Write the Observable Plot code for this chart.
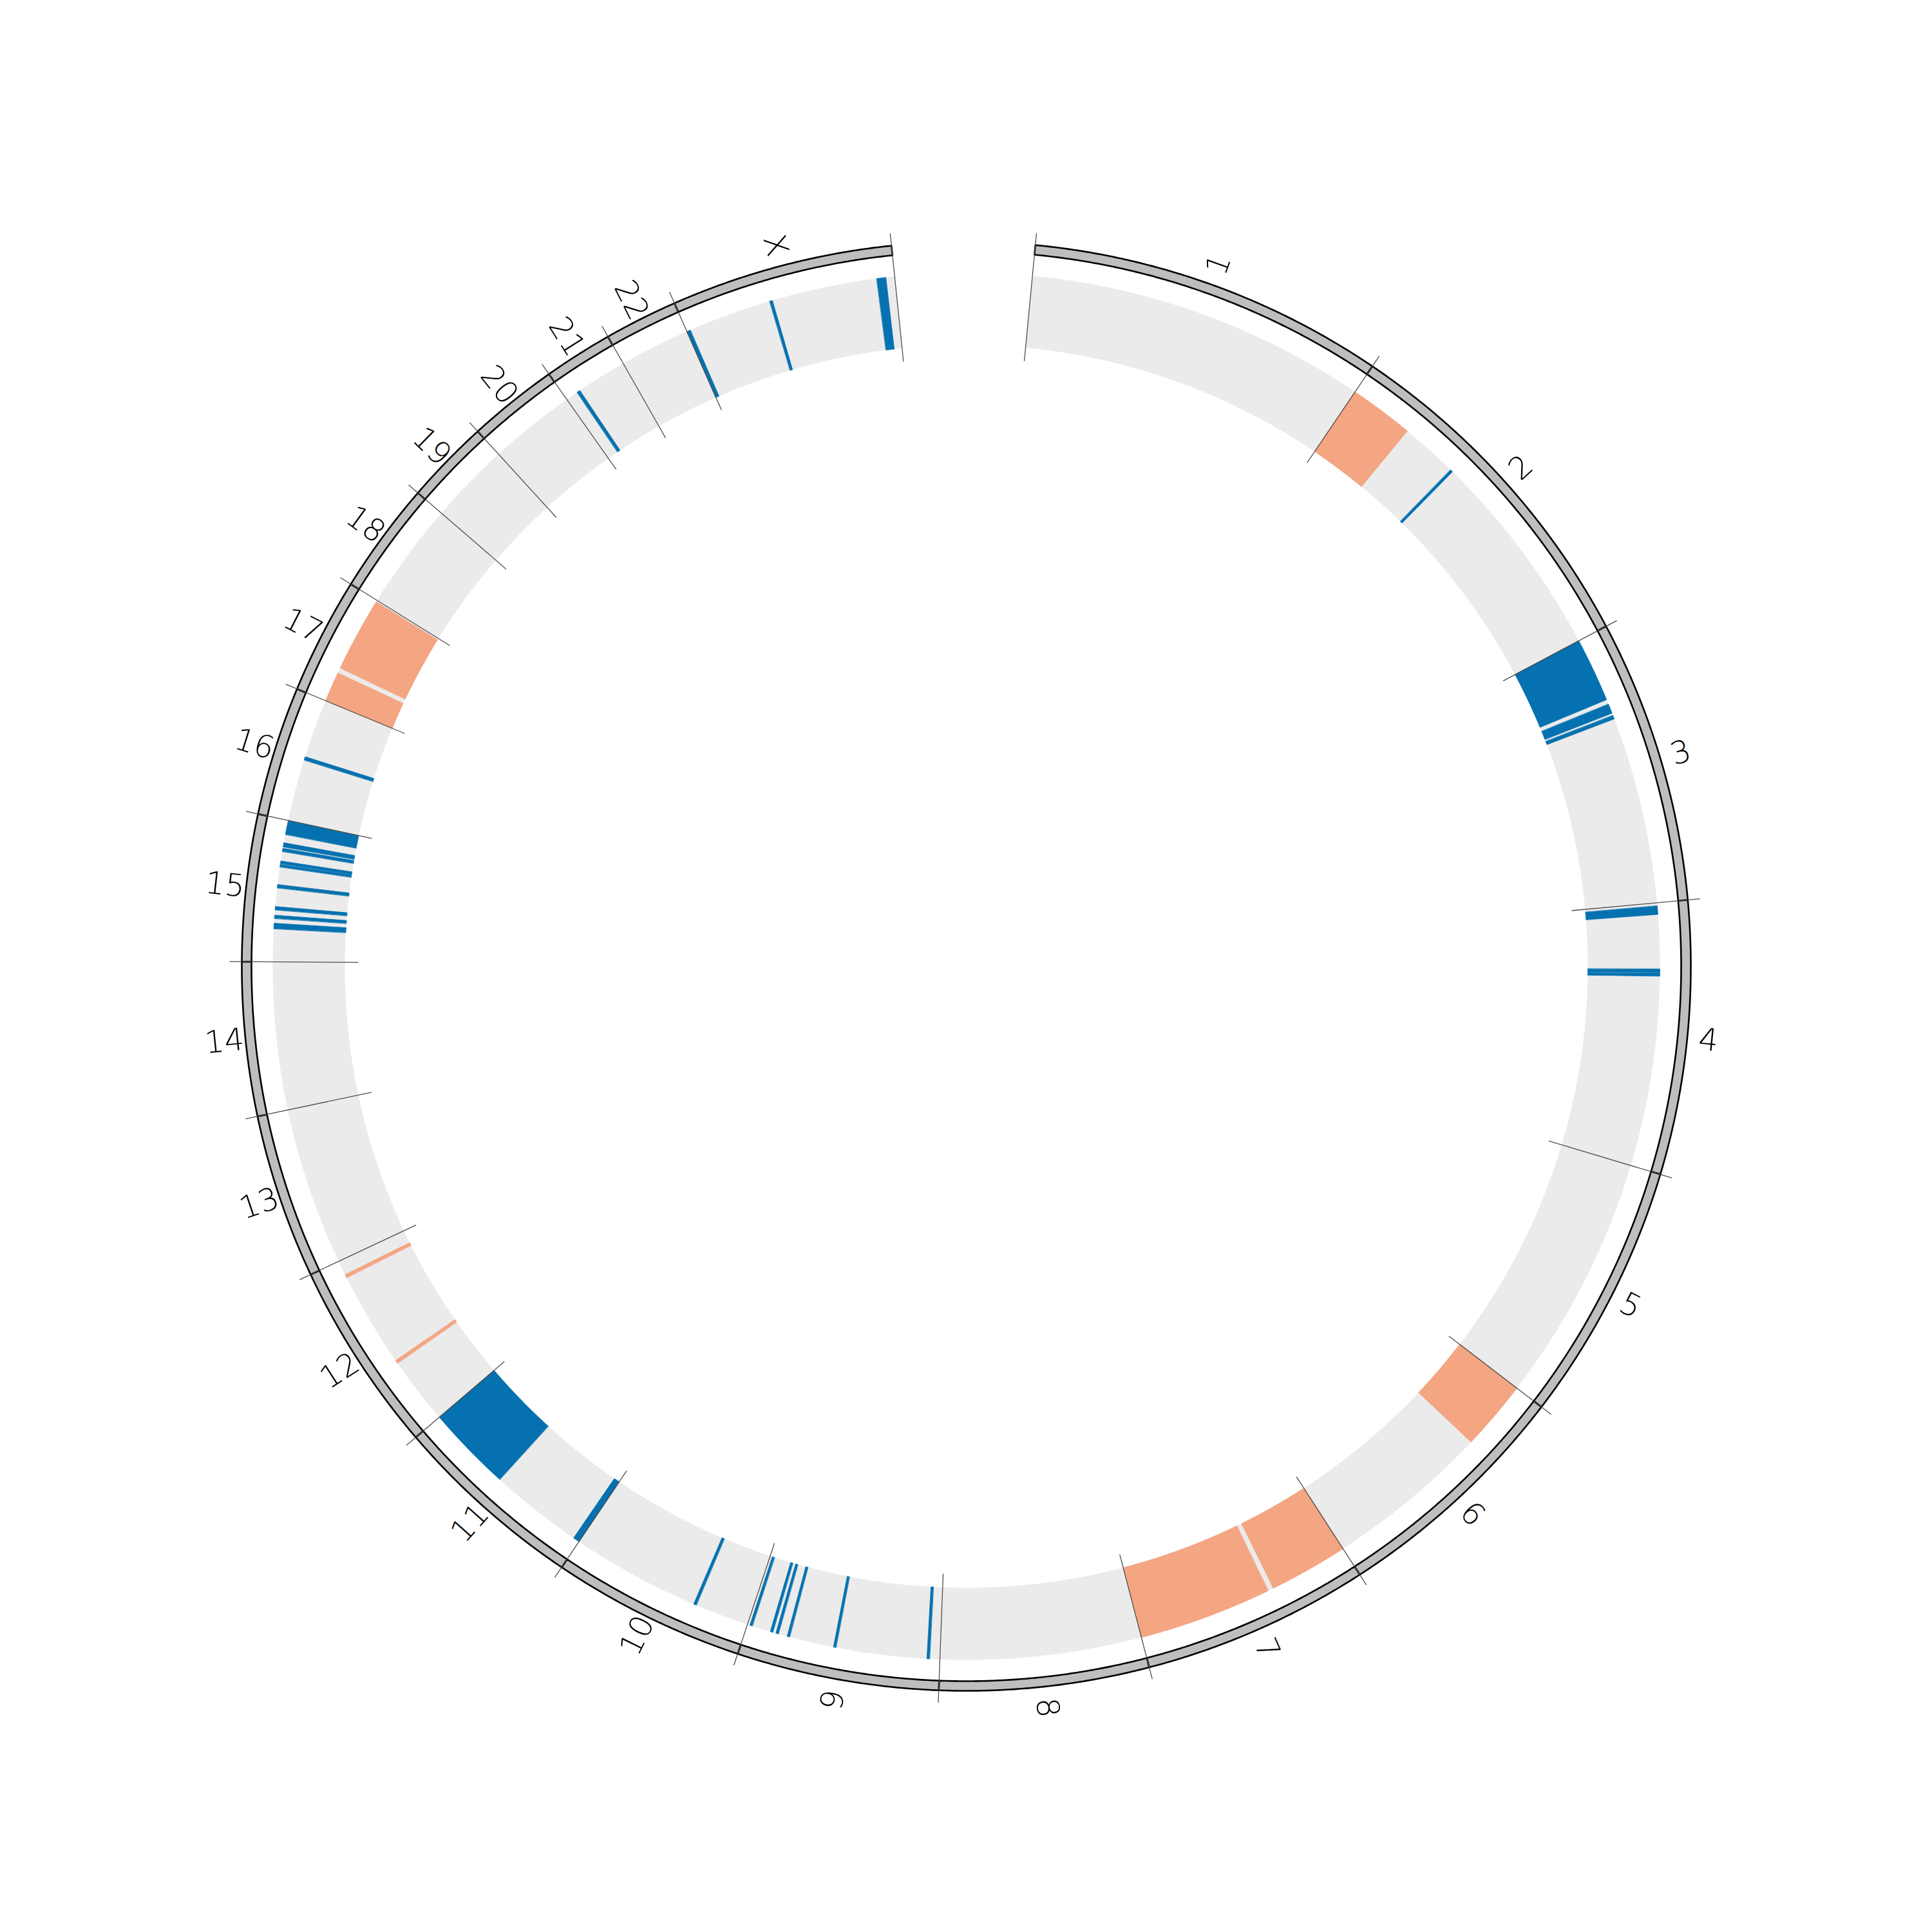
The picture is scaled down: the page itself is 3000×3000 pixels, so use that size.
<!DOCTYPE html>
<html>
<head>
<meta charset="utf-8">
<script src="https://cdn.jsdelivr.net/npm/d3@7"></script>
<script src="https://cdn.jsdelivr.net/npm/@observablehq/plot@0.6"></script>
<style>
  html, body { margin: 0; padding: 0; background: #ffffff; }
  #chart svg { display: block; }
</style>
</head>
<body>
<div id="chart"></div>
<script>
// ---------- data ----------
const chromosomes = ["1","2","3","4","5","6","7","8","9","10","11","12","13","14","15","16","17","18","19","20","21","22","X"];
const chromLengthsMb = [249.25, 243.20, 198.02, 191.15, 180.92, 171.12, 159.14, 146.36, 141.21, 135.53, 135.01, 133.85, 115.17, 107.35, 102.53, 90.35, 81.20, 78.08, 59.13, 63.03, 48.13, 51.30, 155.27];

// gained regions (salmon)
const gainChrom   = ["2", "6", "7", "7", "12", "12", "17", "17"];
const gainStartMb = [0.0, 0.0, 0.0, 61.8, 49.1, 120.8, 0.0, 25.8];
const gainEndMb   = [47.0, 50.9, 57.7, 159.14, 51.5, 123.2, 21.9, 80.0];

// lost regions (blue)
const lossChrom   = ["2", "3", "3", "3", "4", "4", "4",
                     "9", "9", "9", "9", "9", "9", "10", "11", "11",
                     "15", "15", "15", "15", "15", "15", "15", "15", "15",
                     "16", "21", "X", "X", "X"];
const lossStartMb = [88.9, 0.0, 50.4, 59.1, 2.3, 47.8, 50.7,
                     7.5, 75.4, 109.6, 118.0, 122.2, 137.6, 39.4, 0.0, 72.5,
                     23.9, 31.3, 37.5, 53.4, 68.6, 70.8, 79.9, 83.2, 92.3,
                     45.0, 9.0, 0.0, 63.5, 142.3];
const lossEndMb   = [90.8, 46.9, 57.4, 61.8, 8.4, 50.2, 52.9,
                     9.4, 77.2, 111.4, 119.8, 124.0, 139.4, 41.4, 4.7, 135.01,
                     27.8, 33.6, 39.9, 55.8, 70.3, 72.9, 82.1, 86.2, 102.53,
                     47.5, 11.4, 2.7, 65.5, 148.9];

const gainColor = "#f4a582";
const lossColor = "#0571b0";

// ---------- layout ----------
const startAngle = 5.47;   // degrees clockwise from top
const spanAngle = 348.6;
const totalMb = d3.sum(chromLengthsMb);
const chromOffset = [0];
chromLengthsMb.forEach((l, i) => chromOffset.push(chromOffset[i] + l));
const idx = c => chromosomes.indexOf(c);
const ang = (ci, mb) => startAngle + (chromOffset[ci] + mb) / totalMb * spanAngle;
const pt = (r, deg) => { const a = deg * Math.PI / 180; return [r * Math.sin(a), -r * Math.cos(a)]; };

function sector(id, r0, r1, a0, a1) {
  const pts = [];
  const n = Math.max(2, Math.ceil((a1 - a0) / 0.2));
  for (let k = 0; k <= n; k++) { const a = a0 + (a1 - a0) * k / n; const [x, y] = pt(r1, a); pts.push({id, x, y}); }
  for (let k = n; k >= 0; k--) { const a = a0 + (a1 - a0) * k / n; const [x, y] = pt(r0, a); pts.push({id, x, y}); }
  return pts;
}

const trackR0 = 965, trackR1 = 1077;
const ringR0 = 1110, ringR1 = 1125;
const tickR0 = 944, tickR1 = 1144;
const labelR = 1158;

const trackPts = [], ringPts = [];
chromosomes.forEach((c, i) => {
  const a0 = ang(i, 0), a1 = ang(i, chromLengthsMb[i]);
  trackPts.push(...sector("t" + c, trackR0, trackR1, a0, a1));
  ringPts.push(...sector("r" + c, ringR0, ringR1, a0, a1));
});

const gainPts = [];
gainChrom.forEach((c, k) => {
  const i = idx(c);
  gainPts.push(...sector("g" + k, trackR0, trackR1, ang(i, gainStartMb[k]), ang(i, gainEndMb[k])));
});
const lossPts = [];
lossChrom.forEach((c, k) => {
  const i = idx(c);
  lossPts.push(...sector("l" + k, trackR0, trackR1, ang(i, lossStartMb[k]), ang(i, lossEndMb[k])));
});

const boundaries = chromOffset.map(o => {
  const a = startAngle + o / totalMb * spanAngle;
  const [x1, y1] = pt(tickR0, a), [x2, y2] = pt(tickR1, a);
  return {x1, y1, x2, y2};
});

const labels = chromosomes.map((c, i) => {
  const a = ang(i, chromLengthsMb[i] / 2);
  const [x, y] = pt(labelR, a);
  const rot = a < 180 ? a - 90 : a - 270;
  return {text: c, x, y, rot};
});

const chart = Plot.plot({
  width: 3000,
  height: 3000,
  margin: 0,
  x: {domain: [-1500, 1500], range: [0, 3000], axis: null},
  y: {domain: [-1500, 1500], range: [0, 3000], axis: null},
  marks: [
    Plot.line(trackPts, {x: "x", y: "y", z: "id", fill: "#ebebeb", stroke: "none", curve: "linear-closed"}),
    Plot.line(gainPts, {x: "x", y: "y", z: "id", fill: gainColor, stroke: gainColor, strokeWidth: 0.8, curve: "linear-closed"}),
    Plot.line(lossPts, {x: "x", y: "y", z: "id", fill: lossColor, stroke: lossColor, strokeWidth: 0.8, curve: "linear-closed"}),
    Plot.line(ringPts, {x: "x", y: "y", z: "id", fill: "#bebebe", stroke: "#000000", strokeWidth: 2.6, curve: "linear-closed"}),
    Plot.link(boundaries, {x1: "x1", y1: "y1", x2: "x2", y2: "y2", stroke: "#4d4d4d", strokeWidth: 1.3}),
    Plot.text(labels, {x: "x", y: "y", text: "text", rotate: "rot", fontSize: 48, fill: "#000000",
      fontFamily: "DejaVu Sans", fontWeight: 300, textAnchor: "middle", lineAnchor: "middle"})
  ]
});
document.getElementById("chart").appendChild(chart);
</script>
</body>
</html>
